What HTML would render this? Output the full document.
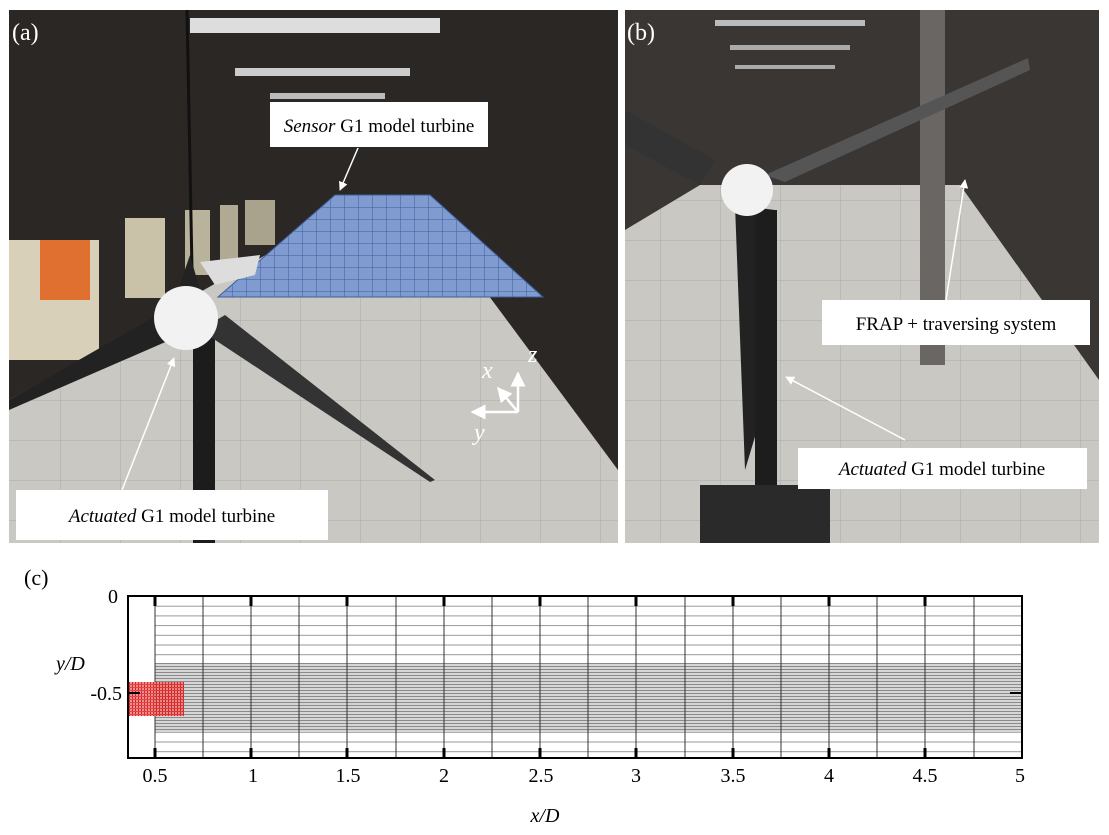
<!DOCTYPE html>
<html><head><meta charset="utf-8"><style>
html,body{margin:0;padding:0;background:#fff;}
svg{display:block;font-family:"Liberation Serif",serif;}
</style></head><body>
<svg width="1109" height="835" viewBox="0 0 1109 835" xmlns="http://www.w3.org/2000/svg">
<defs>
<pattern id="coarse" x="0" y="596" width="10" height="9.7" patternUnits="userSpaceOnUse"><rect x="0" y="0" width="10" height="1" fill="#999"/></pattern>
<pattern id="dense" x="0" y="663" width="10" height="3" patternUnits="userSpaceOnUse"><rect width="10" height="3" fill="#d6d6d6"/><rect x="0" y="0" width="10" height="1" fill="#8a8a8a"/></pattern>
<pattern id="red" x="0" y="0" width="3" height="3" patternUnits="userSpaceOnUse"><rect width="3" height="3" fill="#f08080"/><rect width="1" height="3" fill="#d01010"/><rect width="3" height="1" fill="#e03030"/></pattern>
<pattern id="tile" width="60" height="40" patternUnits="userSpaceOnUse"><rect width="60" height="40" fill="#c9c8c2"/><path d="M0 0H60M0 0V40" stroke="#aaa" stroke-width="1"/></pattern>
<pattern id="bgrid" width="14" height="12" patternUnits="userSpaceOnUse" x="218" y="195"><rect width="14" height="12" fill="#7f9bd0"/><path d="M0 0H14M0 0V12" stroke="#3e5d9a" stroke-width="1"/></pattern>
<marker id="ah" viewBox="0 0 10 10" refX="9" refY="5" markerWidth="6" markerHeight="6" orient="auto"><path d="M0 0L10 5L0 10z" fill="#fff"/></marker>
</defs>

<!-- Panel A -->
<rect x="9" y="10" width="609" height="533" fill="#2b2725"/>
<polygon points="9,543 618,543 618,470 440,230 310,230 9,400" fill="url(#tile)"/>
<rect x="190" y="18" width="250" height="15" fill="#ddd"/>
<rect x="235" y="68" width="175" height="8" fill="#ccc"/>
<rect x="270" y="93" width="115" height="6" fill="#bbb"/>
<rect x="9" y="240" width="90" height="120" fill="#d8d0b8"/>
<rect x="40" y="240" width="50" height="60" fill="#e07030"/>
<rect x="125" y="218" width="40" height="80" fill="#c9c2a8"/>
<rect x="185" y="210" width="25" height="65" fill="#b9b39c"/>
<rect x="220" y="205" width="18" height="55" fill="#b0aa94"/>
<rect x="245" y="200" width="30" height="45" fill="#a9a38e"/>
<polygon points="335,195 430,195 543,297 218,297" fill="url(#bgrid)" stroke="#3e5d9a"/>
<polygon points="200,262 260,255 255,275 215,285" fill="#ddd"/>
<line x1="187" y1="10" x2="192" y2="270" stroke="#111" stroke-width="3"/>
<rect x="193" y="335" width="22" height="208" fill="#1c1c1c"/>
<polygon points="175,305 9,400 9,410 170,340" fill="#222"/>
<polygon points="200,330 225,315 435,480 430,482" fill="#333"/>
<polygon points="178,290 190,255 200,290" fill="#222"/>
<circle cx="186" cy="318" r="32" fill="#f2f2f2"/>
<rect x="270" y="102" width="218" height="45" fill="#fff"/>
<text x="379" y="132" font-size="19" text-anchor="middle"><tspan font-style="italic">Sensor</tspan> G1 model turbine</text>
<line x1="358" y1="148" x2="340" y2="190" stroke="#fff" stroke-width="1.5" marker-end="url(#ah)"/>
<rect x="16" y="490" width="312" height="50" fill="#fff"/>
<text x="172" y="522" font-size="19" text-anchor="middle"><tspan font-style="italic">Actuated</tspan> G1 model turbine</text>
<line x1="122" y1="490" x2="174" y2="358" stroke="#fff" stroke-width="1.5" marker-end="url(#ah)"/>
<g stroke="#fff" stroke-width="2.5" fill="none">
<line x1="518" y1="412" x2="518" y2="373" marker-end="url(#ah)"/>
<line x1="518" y1="412" x2="472" y2="412" marker-end="url(#ah)"/>
<line x1="518" y1="412" x2="498" y2="388" marker-end="url(#ah)"/>
</g>
<text x="528" y="362" font-size="24" fill="#fff" font-style="italic">z</text>
<text x="482" y="378" font-size="24" fill="#fff" font-style="italic">x</text>
<text x="474" y="440" font-size="24" fill="#fff" font-style="italic">y</text>
<text x="12" y="40" font-size="24" fill="#fff">(a)</text>

<!-- Panel B -->
<rect x="625" y="10" width="474" height="533" fill="#3a3633"/>
<polygon points="625,543 1099,543 1099,380 960,185 700,185 625,230" fill="url(#tile)"/>
<rect x="715" y="20" width="150" height="6" fill="#bbb"/>
<rect x="730" y="45" width="120" height="5" fill="#aaa"/>
<rect x="735" y="65" width="100" height="4" fill="#aaa"/>
<rect x="920" y="10" width="25" height="355" fill="#6a6663"/>
<polygon points="765,175 1028,58 1030,70 785,182" fill="#555"/>
<polygon points="625,110 715,160 700,185 625,145" fill="#333"/>
<polygon points="735,205 775,210 760,420 745,470" fill="#222"/>
<rect x="755" y="210" width="22" height="333" fill="#1d1d1d"/>
<rect x="700" y="485" width="130" height="58" fill="#2a2a2a"/>
<circle cx="747" cy="190" r="26" fill="#f2f2f2"/>
<rect x="822" y="300" width="268" height="45" fill="#fff"/>
<text x="956" y="330" font-size="19" text-anchor="middle">FRAP + traversing system</text>
<line x1="946" y1="300" x2="965" y2="180" stroke="#fff" stroke-width="1.5" marker-end="url(#ah)"/>
<rect x="798" y="448" width="289" height="41" fill="#fff"/>
<text x="942" y="475" font-size="19" text-anchor="middle"><tspan font-style="italic">Actuated</tspan> G1 model turbine</text>
<line x1="905" y1="440" x2="786" y2="377" stroke="#fff" stroke-width="1.5" marker-end="url(#ah)"/>
<text x="627" y="40" font-size="24" fill="#fff">(b)</text>

<!-- Panel C -->
<text x="24" y="585" font-size="22">(c)</text>
<rect x="155" y="596" width="867" height="162" fill="url(#coarse)"/>
<rect x="155" y="663" width="867" height="69" fill="url(#dense)"/>
<g stroke="#333" stroke-width="1">
<line x1="203" y1="596" x2="203" y2="758"/><line x1="251" y1="596" x2="251" y2="758"/><line x1="299" y1="596" x2="299" y2="758"/><line x1="347" y1="596" x2="347" y2="758"/><line x1="396" y1="596" x2="396" y2="758"/><line x1="444" y1="596" x2="444" y2="758"/><line x1="492" y1="596" x2="492" y2="758"/><line x1="540" y1="596" x2="540" y2="758"/><line x1="588" y1="596" x2="588" y2="758"/><line x1="636" y1="596" x2="636" y2="758"/><line x1="685" y1="596" x2="685" y2="758"/><line x1="733" y1="596" x2="733" y2="758"/><line x1="781" y1="596" x2="781" y2="758"/><line x1="829" y1="596" x2="829" y2="758"/><line x1="877" y1="596" x2="877" y2="758"/><line x1="925" y1="596" x2="925" y2="758"/><line x1="974" y1="596" x2="974" y2="758"/>
<line x1="155" y1="596" x2="155" y2="758"/>
</g>
<rect x="128" y="682" width="56" height="34" fill="url(#red)" opacity="0.9"/>
<line x1="128" y1="693" x2="140" y2="693" stroke="#000" stroke-width="2"/>
<line x1="1010" y1="693" x2="1022" y2="693" stroke="#000" stroke-width="2"/>
<rect x="128" y="596" width="894" height="162" fill="none" stroke="#000" stroke-width="2"/>
<g stroke="#000" stroke-width="3">
<line x1="155" y1="596" x2="155" y2="606"/><line x1="251" y1="596" x2="251" y2="606"/><line x1="347" y1="596" x2="347" y2="606"/><line x1="444" y1="596" x2="444" y2="606"/><line x1="540" y1="596" x2="540" y2="606"/><line x1="636" y1="596" x2="636" y2="606"/><line x1="733" y1="596" x2="733" y2="606"/><line x1="829" y1="596" x2="829" y2="606"/><line x1="925" y1="596" x2="925" y2="606"/>
<line x1="155" y1="748" x2="155" y2="758"/><line x1="251" y1="748" x2="251" y2="758"/><line x1="347" y1="748" x2="347" y2="758"/><line x1="444" y1="748" x2="444" y2="758"/><line x1="540" y1="748" x2="540" y2="758"/><line x1="636" y1="748" x2="636" y2="758"/><line x1="733" y1="748" x2="733" y2="758"/><line x1="829" y1="748" x2="829" y2="758"/><line x1="925" y1="748" x2="925" y2="758"/>
</g>
<g font-size="20" text-anchor="middle">
<text x="155" y="782">0.5</text><text x="253" y="782">1</text><text x="348" y="782">1.5</text><text x="444" y="782">2</text><text x="541" y="782">2.5</text><text x="636" y="782">3</text><text x="733" y="782">3.5</text><text x="829" y="782">4</text><text x="925" y="782">4.5</text><text x="1020" y="782">5</text>
</g>
<text x="118" y="603" font-size="20" text-anchor="end">0</text>
<text x="122" y="700" font-size="20" text-anchor="end">-0.5</text>
<text x="56" y="670" font-size="20" font-style="italic">y/D</text>
<text x="545" y="822" font-size="20" font-style="italic" text-anchor="middle">x/D</text>
</svg>
</body></html>
